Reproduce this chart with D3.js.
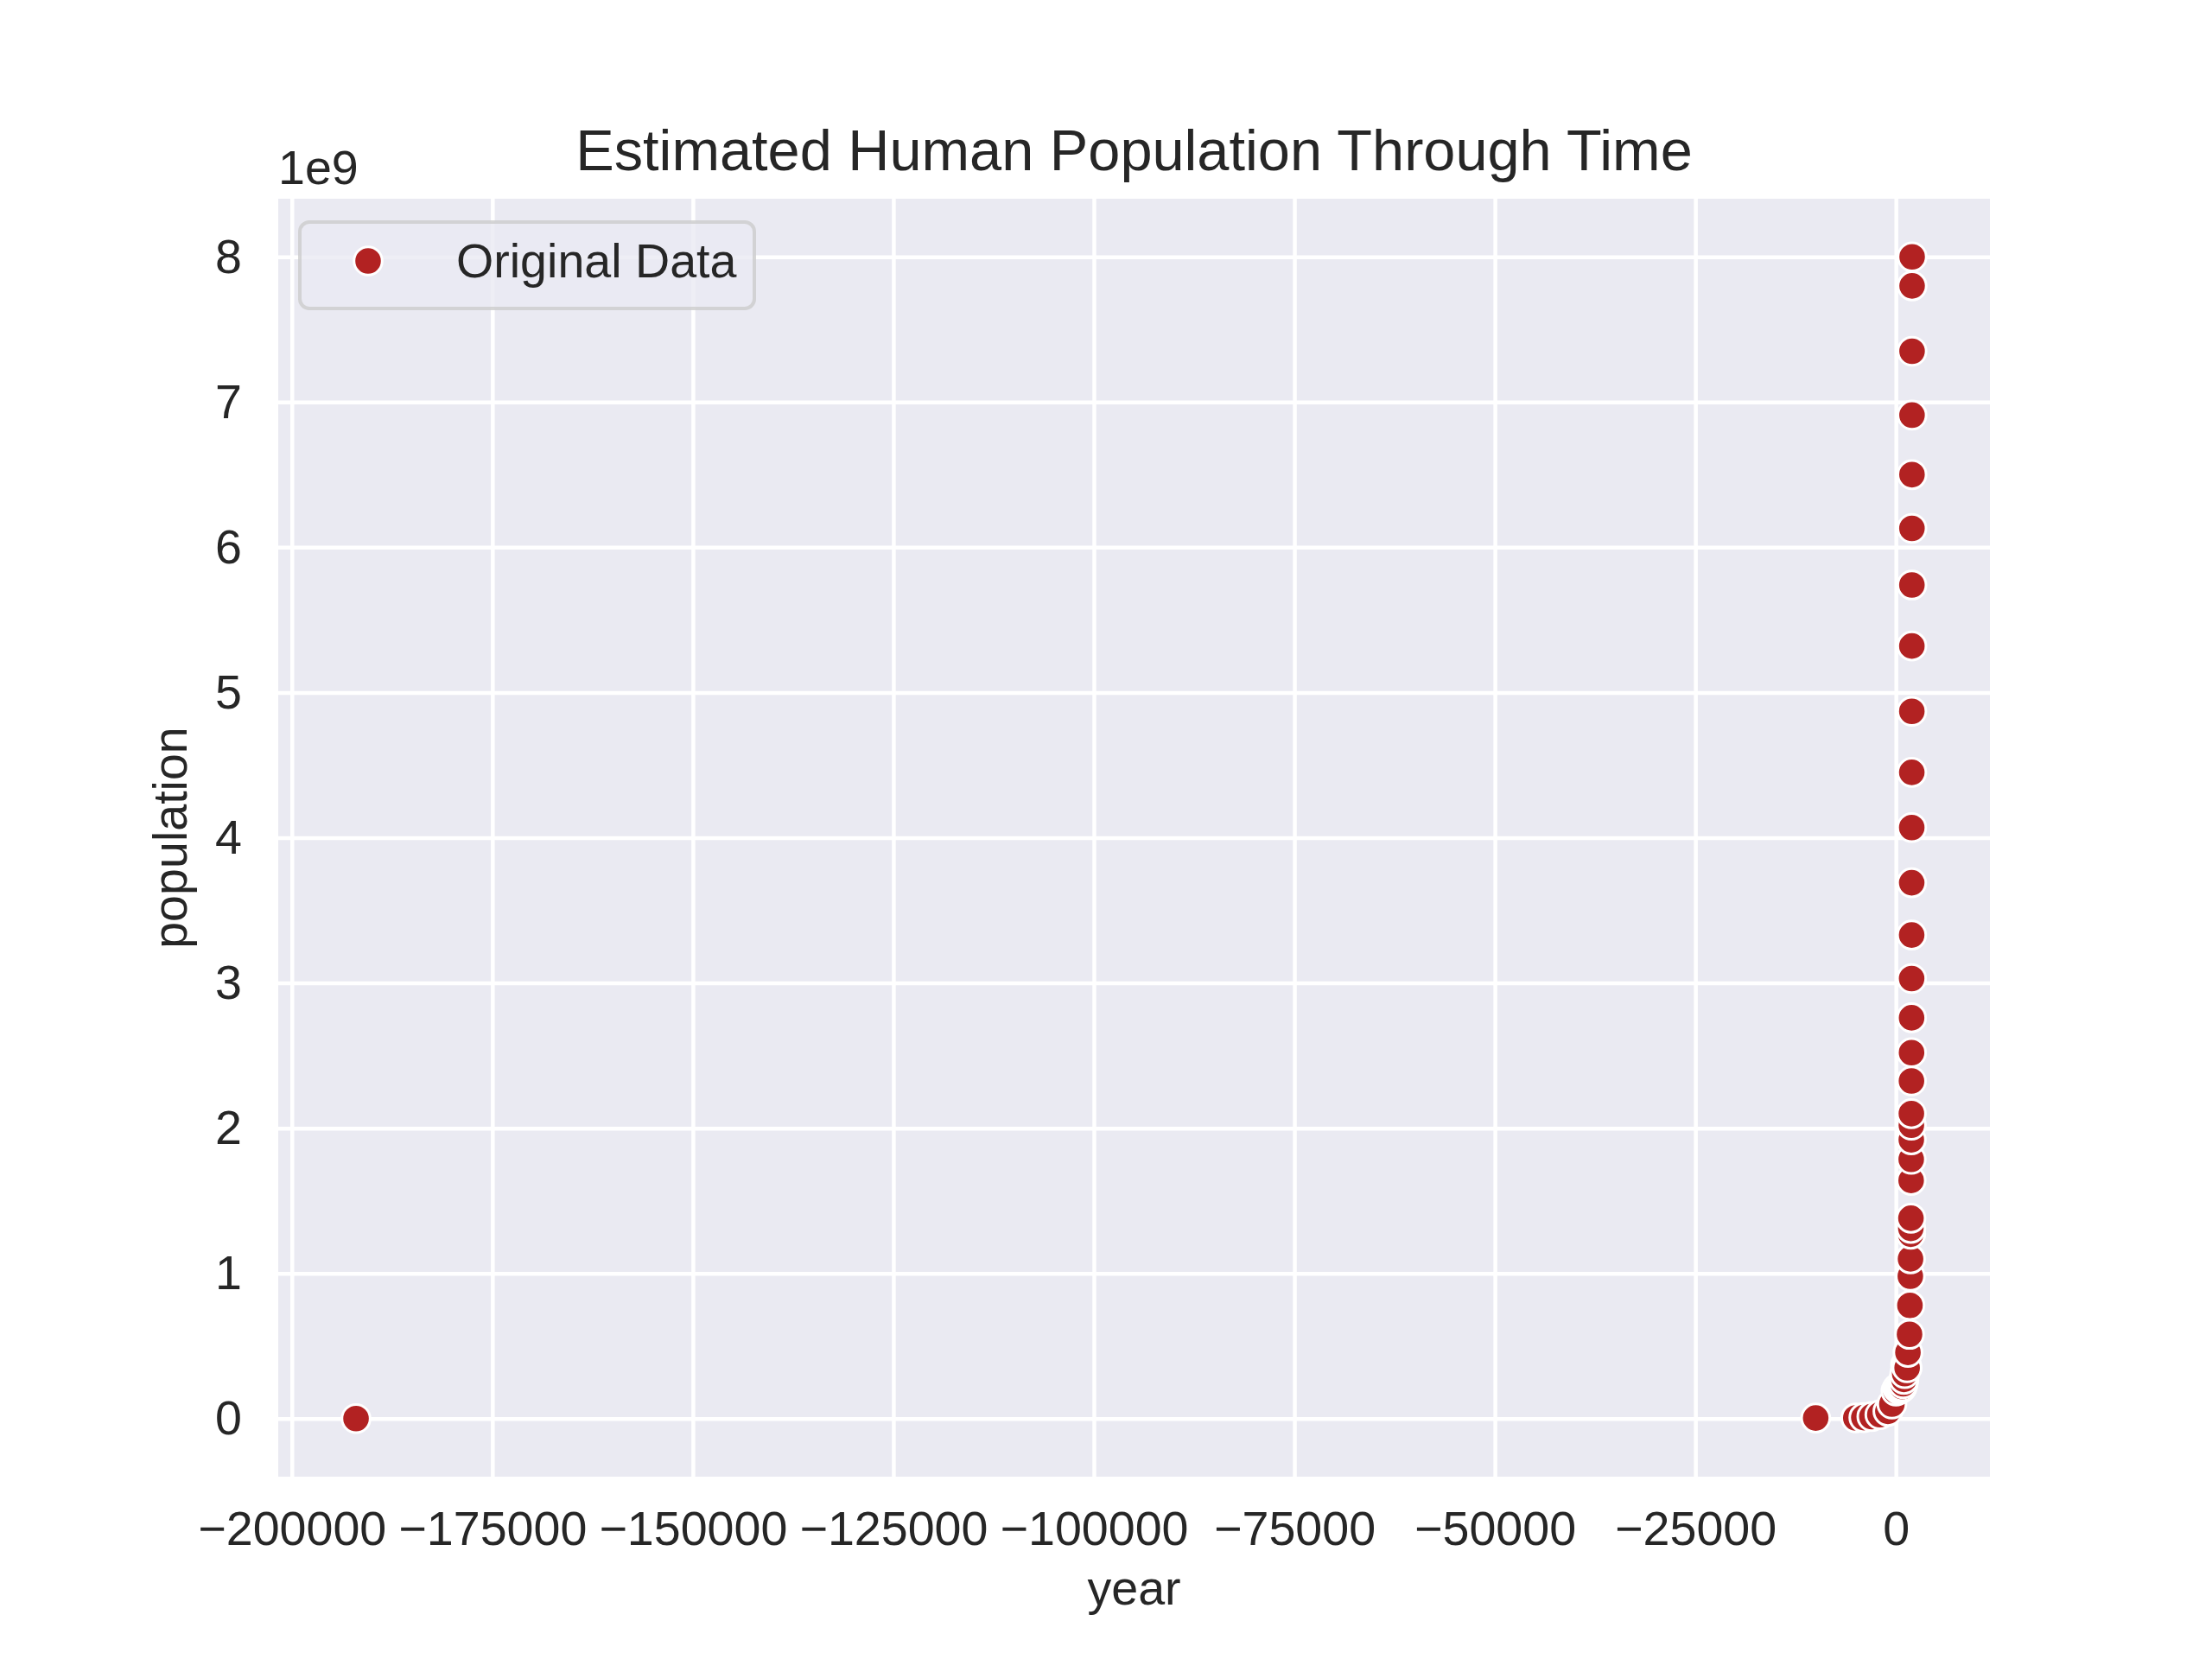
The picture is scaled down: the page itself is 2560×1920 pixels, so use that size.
<!DOCTYPE html>
<html>
<head>
  <meta charset="utf-8">
  <title>Estimated Human Population Through Time</title>
  <script src="https://d3js.org/d3.v7.min.js"></script>
  <style>
    body { margin: 0; background: #fff; }
    text { font-family: "Liberation Sans", Arial, sans-serif; fill: #262626; }
    .gridlines line { stroke: #fff; stroke-width: 4.5; }
    .gridlines .domain { stroke: none; }
    .axis .domain { stroke: none; }
    .axis line { stroke: none; }
    .axis text { font-size: 55.6px; }
  </style>
</head>
<body>
  <svg id="chart" width="2560" height="1920"></svg>

  <script>
    // data
    const years = [-192000, -10000, -5000, -4000, -3000, -2000, -1000, -500, 1,
      200, 400, 500, 600, 700, 800, 900, 1000, 1100, 1200, 1300, 1400, 1500,
      1700, 1750, 1800, 1825, 1850, 1860, 1875, 1900, 1910, 1920, 1927, 1930,
      1940, 1950, 1955, 1960, 1965, 1970, 1975, 1980, 1985, 1990, 1995, 2000,
      2005, 2010, 2015, 2020, 2023];
    const population = [2e4, 4e6, 5e6, 7e6, 14e6, 27e6, 50e6, 100e6, 190e6,
      210e6, 200e6, 210e6, 210e6, 210e6, 220e6, 240e6, 270e6, 310e6, 370e6, 370e6, 350e6, 456e6,
      580e6, 780e6, 980e6, 1.10e9, 1.27e9, 1.31e9, 1.38e9, 1.64e9, 1.785e9, 1.92e9, 2.02e9, 2.10e9,
      2.325e9, 2.52e9, 2.76e9, 3.03e9, 3.33e9, 3.69e9, 4.07e9, 4.45e9, 4.87e9, 5.32e9, 5.74e9, 6.13e9,
      6.5e9, 6.91e9, 7.35e9, 7.8e9, 8.0e9];

    const xTicks = [-200000, -175000, -150000, -125000, -100000, -75000, -50000, -25000, 0];
    const yTicks = [0, 1e9, 2e9, 3e9, 4e9, 5e9, 6e9, 7e9, 8e9];
    const yTickLabels = ["0", "1", "2", "3", "4", "5", "6", "7", "8"];

    const data = years.map((y, i) => ({year: y, pop: population[i]}));

    let svg = d3.select("#chart");
    let box = {left: 322, right: 2303, top: 230, bottom: 1709};

    // matplotlib style 5% padding around the data
    function pad(ext) {
      let r = ext[1] - ext[0];
      return [ext[0] - 0.05 * r, ext[1] + 0.05 * r];
    }

    let xScale = d3.scaleLinear()
      .domain(pad(d3.extent(years)))
      .range([box.left, box.right]);
    let yScale = d3.scaleLinear()
      .domain(pad(d3.extent(population)))
      .range([box.bottom, box.top]);

    // background
    svg.append("rect")
      .attr("x", box.left).attr("y", box.top)
      .attr("width", box.right - box.left)
      .attr("height", box.bottom - box.top)
      .attr("fill", "#EAEAF2");

    // grid
    svg.append("g")
      .attr("class", "gridlines")
      .attr("transform", `translate(0, ${box.bottom})`)
      .call(d3.axisBottom(xScale).tickValues(xTicks).tickSize(-(box.bottom - box.top)).tickFormat(""));
    svg.append("g")
      .attr("class", "gridlines")
      .attr("transform", `translate(${box.left}, 0)`)
      .call(d3.axisLeft(yScale).tickValues(yTicks).tickSize(-(box.right - box.left)).tickFormat(""));

    // axes (labels only, no tick marks)
    svg.append("g")
      .attr("class", "axis")
      .attr("transform", `translate(0, ${box.bottom})`)
      .call(d3.axisBottom(xScale).tickValues(xTicks).tickSize(0).tickPadding(39.5).tickFormat(d3.format("d")));
    svg.append("g")
      .attr("class", "axis")
      .attr("transform", `translate(${box.left}, 0)`)
      .call(d3.axisLeft(yScale).tickValues(yTicks).tickSize(0).tickPadding(42)
        .tickFormat((d, i) => yTickLabels[i]));
    svg.selectAll(".axis text").attr("fill", "#262626");

    // points
    svg.append("g")
      .selectAll("circle")
      .data(data)
      .enter()
      .append("circle")
      .attr("cx", d => xScale(d.year))
      .attr("cy", d => yScale(d.pop))
      .attr("r", 16.3)
      .attr("fill", "#B22222")
      .attr("stroke", "#fff")
      .attr("stroke-width", 3);

    // legend
    let legend = svg.append("g");
    legend.append("rect")
      .attr("x", 347).attr("y", 257)
      .attr("width", 526).attr("height", 100)
      .attr("rx", 11)
      .attr("fill", "#EAEAF2").attr("fill-opacity", 0.8)
      .attr("stroke", "#CCCCCC").attr("stroke-opacity", 0.8)
      .attr("stroke-width", 4);
    legend.append("circle")
      .attr("cx", 426).attr("cy", 302)
      .attr("r", 16.3)
      .attr("fill", "#B22222")
      .attr("stroke", "#fff")
      .attr("stroke-width", 3);
    legend.append("text")
      .attr("x", 528).attr("y", 302)
      .attr("dy", "0.35em")
      .style("font-size", "55.6px")
      .text("Original Data");

    // title, axis labels, offset text
    svg.append("text")
      .attr("x", (box.left + box.right) / 2).attr("y", 197)
      .attr("text-anchor", "middle")
      .style("font-size", "66.7px")
      .text("Estimated Human Population Through Time");
    svg.append("text")
      .attr("x", box.left).attr("y", 213)
      .style("font-size", "55.6px")
      .text("1e9");
    svg.append("text")
      .attr("x", (box.left + box.right) / 2).attr("y", 1857)
      .attr("text-anchor", "middle")
      .style("font-size", "55.6px")
      .text("year");
    svg.append("text")
      .attr("transform", `translate(216, ${(box.top + box.bottom) / 2}) rotate(-90)`)
      .attr("text-anchor", "middle")
      .style("font-size", "55.6px")
      .text("population");
  </script>
</body>
</html>
